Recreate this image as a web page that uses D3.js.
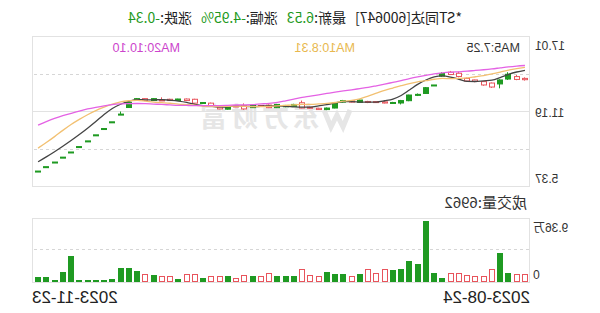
<!DOCTYPE html>
<html>
<head>
<meta charset="utf-8">
<script src="https://cdn.jsdelivr.net/npm/d3@7"></script>
<style>
  body { margin: 0; background: #fff; }
  svg { display: block; font-family: "Liberation Sans", "Noto Sans CJK SC", sans-serif; }
</style>
</head>
<body>
<svg id="chart" width="600" height="313"></svg>
<script>
// trading days shown
const dates = [
  "2023-08-24","2023-08-25","2023-08-28","2023-08-29","2023-08-30","2023-08-31",
  "2023-09-01","2023-09-04","2023-09-05","2023-09-06","2023-09-07","2023-09-08",
  "2023-09-11","2023-09-12","2023-09-13","2023-09-14","2023-09-15","2023-09-18",
  "2023-09-19","2023-09-20","2023-09-21","2023-09-22","2023-09-25","2023-09-26",
  "2023-09-27","2023-09-28","2023-10-09","2023-10-10","2023-10-11","2023-10-12",
  "2023-10-13","2023-10-16","2023-10-17","2023-10-18","2023-10-19","2023-10-20",
  "2023-10-23","2023-10-24","2023-10-25","2023-10-26","2023-10-27","2023-10-30",
  "2023-10-31","2023-11-01","2023-11-02","2023-11-03","2023-11-06","2023-11-07",
  "2023-11-08","2023-11-09","2023-11-10","2023-11-13","2023-11-14","2023-11-15",
  "2023-11-16","2023-11-17","2023-11-20","2023-11-21","2023-11-22","2023-11-23"
];
const opens = [13.62,13.64,14.04,13.60,13.05,13.21,13.48,13.52,13.87,14.02,14.10,13.21,13.00,12.48,12.43,12.00,11.85,11.81,11.86,11.85,
  12.04,11.88,12.00,11.80,11.42,11.30,11.40,11.42,11.70,11.62,11.70,11.45,11.55,11.62,11.35,11.52,11.52,11.35,11.55,11.85,
  11.80,12.00,12.12,12.00,12.00,12.15,12.02,12.15,11.85,10.95,10.35,9.83,9.34,8.87,8.43,8.01,7.61,7.23,6.87,6.53];
const highs = [13.80,13.98,14.20,13.65,13.40,13.50,13.62,13.78,14.25,14.30,14.20,13.21,13.05,12.55,12.45,12.05,11.90,11.95,11.96,11.98,
  12.08,12.02,12.05,11.86,11.46,11.44,11.52,12.00,11.75,11.66,11.74,11.70,11.66,11.66,11.78,11.62,11.56,11.54,11.84,11.88,
  12.14,12.16,12.14,12.14,12.25,12.18,12.18,12.20,11.90,11.15,10.35,9.83,9.34,8.87,8.43,8.01,7.61,7.23,6.87,6.53];
const lows = [13.55,13.58,13.60,12.95,12.98,13.15,13.42,13.48,13.80,13.98,13.85,13.21,12.55,12.35,11.95,11.70,11.78,11.78,11.82,11.80,
  11.84,11.85,11.85,11.40,11.26,11.27,11.36,11.40,11.52,11.48,11.42,11.42,11.52,11.42,11.28,11.50,11.30,11.32,11.52,11.76,
  11.78,11.98,11.98,11.98,11.98,11.98,12.00,12.04,11.46,10.89,10.35,9.83,9.34,8.87,8.43,8.01,7.61,7.23,6.87,6.53];
const closes = [13.72,13.86,13.67,13.29,13.36,13.47,13.60,13.72,14.12,14.20,13.90,13.21,12.55,12.42,11.99,11.81,11.81,11.90,11.92,11.93,
  11.86,11.98,11.88,11.42,11.30,11.40,11.48,11.83,11.55,11.52,11.45,11.65,11.62,11.45,11.60,11.58,11.33,11.50,11.80,11.80,
  12.10,12.12,12.00,12.10,12.05,12.00,12.15,12.06,11.46,10.89,10.35,9.83,9.34,8.87,8.43,8.01,7.61,7.23,6.87,6.53];
const volumes = [10500,10500,13000,43200,18200,7800,7800,9400,13000,12000,4200,13000,93600,26000,31200,19200,17200,19200,13000,19200,
  10500,7800,11000,11000,14000,7800,9400,18200,7800,7800,7800,12000,7800,7800,9400,4700,7800,7800,7800,4700,
  10500,10500,3100,7300,7300,8900,11400,15600,20700,19800,2600,1000,1000,1000,1000,39000,14500,1500,6200,6962];
// closes before 2023-08-24, only used for the moving averages
const preCloses = [14.80,14.90,14.85,14.95,14.80,14.70,14.90,15.00,14.85,14.95,14.80,14.90,14.85,14.70,14.80,14.50,14.60,14.50,14.40];

const priceTicks = [17.01, 11.19, 5.37];
const volTicks = ["9.36万", "0"];
const maPeriods = [5, 10, 20];
const maColors = ["#444444", "#f2c071", "#e462e4"];
const maLabelColors = ["#333333", "#e8b84e", "#cc44cc"];

const UP = "#e8545c", DOWN = "#1f9a22";

const svg = d3.select("#chart");
// the whole picture is mirrored left-right
const root = svg.append("g").attr("transform", "translate(600,0) scale(-1,1)");

const left = 71, right = 568;
const mainTop = 36, mainBot = 186;
const volTop = 218, volBot = 281;

const x = d3.scaleBand().domain(d3.range(dates.length)).range([72, 565]).paddingInner(0.26);
const y = d3.scaleLinear().domain([5.37, 17.01]).range([mainBot, mainTop]);
const yv = d3.scaleLinear().domain([0, 93600]).range([volBot, volTop + 3]);
const cx = i => x(i) + x.bandwidth() / 2;

// title
const title = root.append("text").attr("x", 138).attr("y", 23)
  .style("font-family", '"Noto Sans CJK SC", sans-serif').style("font-size", "14px").attr("fill", "#222");
title.append("tspan").text("*ST同达[600647]");
title.append("tspan").attr("dx", 9).text("最新:");
title.append("tspan").attr("fill", DOWN).text("6.53");
title.append("tspan").attr("dx", 9).text("涨幅:");
title.append("tspan").attr("fill", DOWN).text("-4.95%");
title.append("tspan").attr("dx", 9).text("涨跌:");
title.append("tspan").attr("fill", DOWN).text("-0.34");

// watermark
const wm = root.append("g").attr("fill", "none").attr("stroke", "#e6e6e6");
wm.append("path").attr("d", "M250,110 L257,127 L263,115 L269,127 L276,110").attr("stroke-width", 5);
root.append("text").attr("x", 280).attr("y", 127)
  .style("font-family", '"Noto Sans CJK SC", sans-serif').style("font-size", "27px").style("font-weight", "bold")
  .style("letter-spacing", "4px").attr("fill", "#e6e6e6").text("东方财富");

// panels
const grid = root.append("g").attr("shape-rendering", "crispEdges");
grid.append("rect").attr("x", left).attr("y", mainTop).attr("width", right - left).attr("height", mainBot - mainTop)
  .attr("fill", "none").attr("stroke", "#e2e2e2");
grid.append("rect").attr("x", left).attr("y", volTop).attr("width", right - left).attr("height", volBot + 1 - volTop)
  .attr("fill", "none").attr("stroke", "#e2e2e2");
[mainTop + 37.5, mainBot - 37.5].forEach(v => grid.append("line").attr("x1", left).attr("x2", right)
  .attr("y1", Math.round(v)).attr("y2", Math.round(v)).attr("stroke", "#d6d6d6").attr("stroke-dasharray", "3,3"));
grid.append("line").attr("x1", left).attr("x2", right).attr("y1", y(11.19)).attr("y2", y(11.19)).attr("stroke", "#e2e2e2");
grid.append("line").attr("x1", left).attr("x2", right).attr("y1", 249).attr("y2", 249)
  .attr("stroke", "#d6d6d6").attr("stroke-dasharray", "3,3");

// price labels
const ptxt = root.append("g").style("font-size", "12px").attr("fill", "#333").attr("text-anchor", "end");
ptxt.selectAll("text").data(priceTicks).join("text")
  .attr("x", 65)
  .attr("y", (d, i) => [49.5, 116.5, 182.5][i])
  .text(d => d.toFixed(2));
ptxt.append("text").attr("x", 67).attr("y", 231.5).text(volTicks[0]);
ptxt.append("text").attr("x", 67).attr("y", 279).text(volTicks[1]);

// candles
const isUp = i => closes[i] > opens[i] || (closes[i] === opens[i] && closes[i] >= (i ? closes[i - 1] : preCloses[preCloses.length - 1]));
const bw = Math.round(x.bandwidth());
const candles = root.append("g").selectAll("g").data(d3.range(dates.length)).join("g");
candles.append("line")
  .attr("x1", i => Math.round(cx(i)) + 0.5).attr("x2", i => Math.round(cx(i)) + 0.5)
  .attr("y1", i => y(highs[i])).attr("y2", i => y(lows[i]))
  .attr("stroke", i => isUp(i) ? UP : DOWN);
candles.append("rect")
  .attr("x", i => Math.round(cx(i)) - Math.floor(bw / 2) + 0.5)
  .attr("y", i => y(Math.max(opens[i], closes[i])))
  .attr("width", bw - 1)
  .attr("height", i => Math.max(1, Math.abs(y(opens[i]) - y(closes[i]))))
  .attr("fill", i => isUp(i) ? "#fff" : DOWN)
  .attr("stroke", i => isUp(i) ? UP : DOWN);

// moving averages
const allCloses = preCloses.concat(closes);
const off = preCloses.length;
maPeriods.forEach((p, k) => {
  const ma = closes.map((c, i) => d3.mean(allCloses.slice(off + i - p + 1, off + i + 1)));
  root.append("path").datum(ma)
    .attr("fill", "none").attr("stroke", maColors[k]).attr("stroke-width", 1.3)
    .attr("d", d3.line().x((d, i) => cx(i)).y(d => y(d)).curve(d3.curveMonotoneX));
  root.append("text").attr("x", [80, 245, 420][k]).attr("y", 52)
    .style("font-size", "12.5px").attr("fill", maLabelColors[k])
    .text(`MA${p}:${(Math.round(ma[ma.length - 1] * 100) / 100).toFixed(2)}`);
});

// volume
root.append("text").attr("x", 73).attr("y", 208)
  .style("font-family", '"Noto Sans CJK SC", sans-serif').style("font-size", "15px").attr("fill", "#333")
  .text("成交量:" + volumes[volumes.length - 1]);
root.append("g").attr("shape-rendering", "crispEdges")
  .selectAll("rect").data(d3.range(dates.length)).join("rect")
  .attr("x", i => Math.round(cx(i)) - Math.floor(bw / 2) + 0.5)
  .attr("y", i => Math.round(yv(volumes[i])) + 0.5)
  .attr("width", bw - 1)
  .attr("height", i => Math.max(0.5, volBot - Math.round(yv(volumes[i])) - 0.5))
  .attr("fill", i => isUp(i) ? "#fff" : DOWN)
  .attr("stroke", i => isUp(i) ? UP : DOWN);

// date labels
const dtxt = root.append("g").style("font-size", "17px").attr("fill", "#222");
dtxt.append("text").attr("x", 70).attr("y", 303).text(dates[0]);
dtxt.append("text").attr("x", 568).attr("y", 303).attr("text-anchor", "end").text(dates[dates.length - 1]);
</script>
</body>
</html>
